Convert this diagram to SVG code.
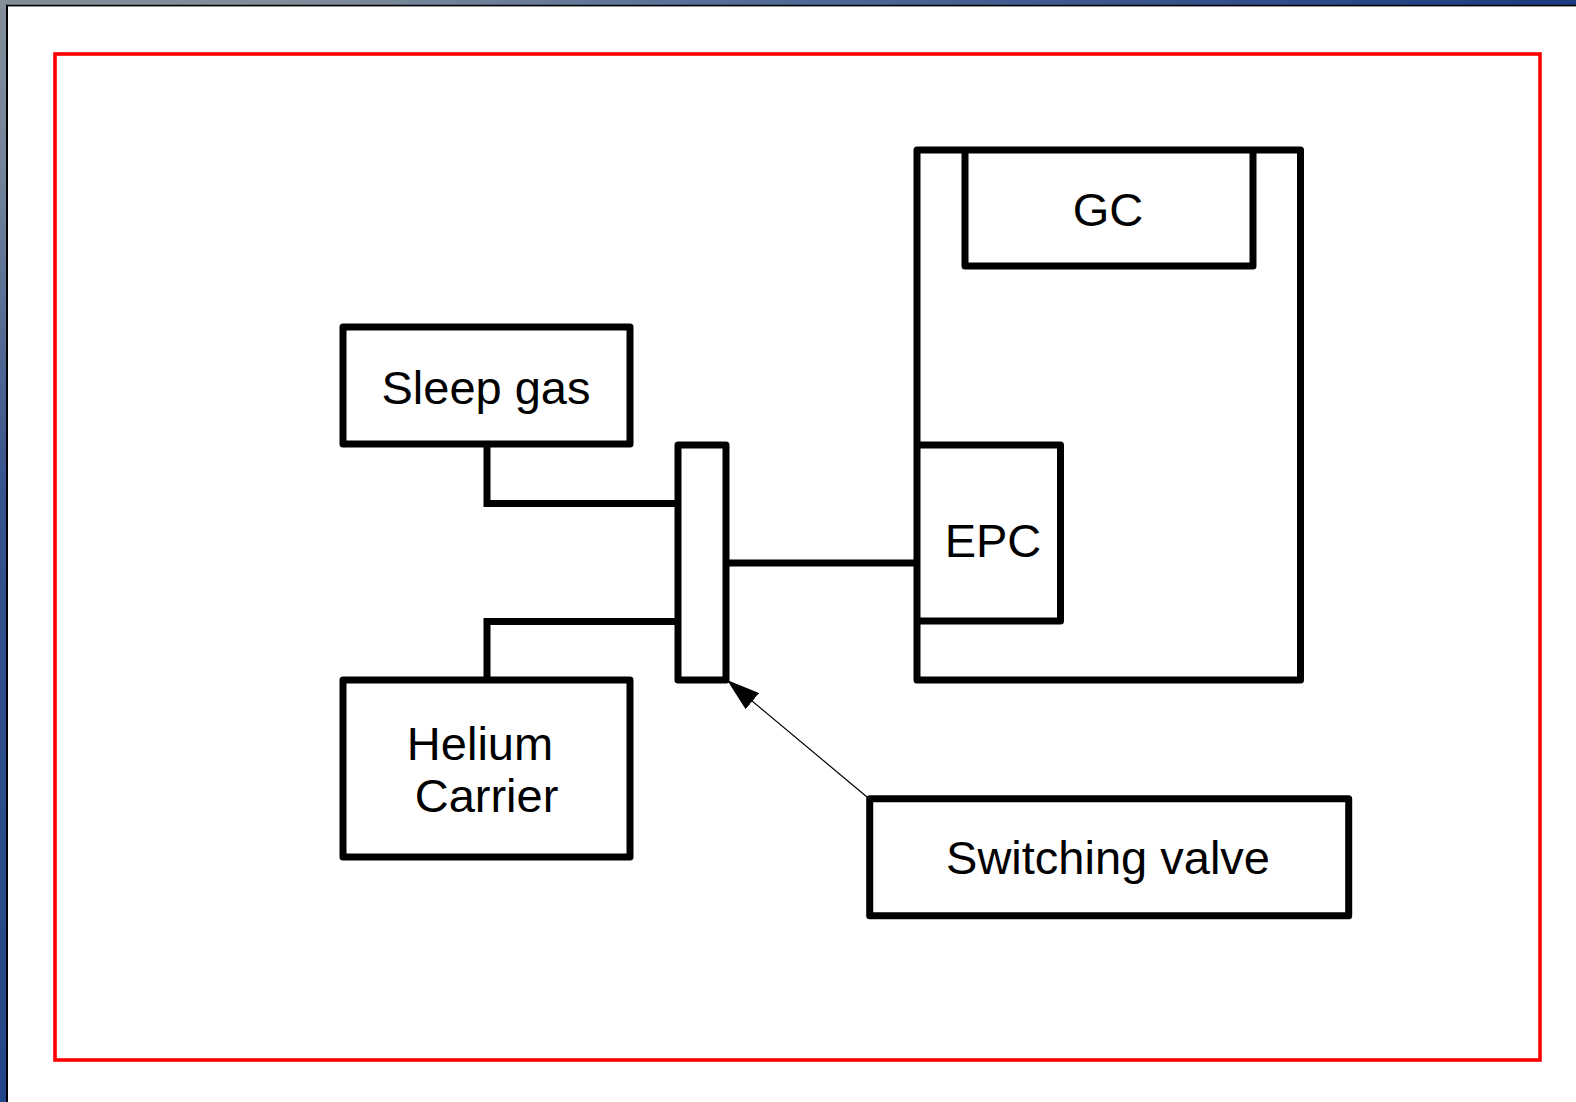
<svg xmlns="http://www.w3.org/2000/svg" width="1576" height="1102" viewBox="0 0 1576 1102">
<defs>
<linearGradient id="gTop" x1="0" y1="0" x2="1576" y2="0" gradientUnits="userSpaceOnUse">
<stop offset="0" stop-color="#838e99"/>
<stop offset="0.2" stop-color="#7f8b98"/>
<stop offset="0.45" stop-color="#566e98"/>
<stop offset="1" stop-color="#1b3a80"/>
</linearGradient>
<linearGradient id="gLeft" x1="0" y1="0" x2="0" y2="1102" gradientUnits="userSpaceOnUse">
<stop offset="0" stop-color="#838e99"/>
<stop offset="0.15" stop-color="#74849a"/>
<stop offset="0.45" stop-color="#35528d"/>
<stop offset="1" stop-color="#214788"/>
</linearGradient>
<marker id="arrow" viewBox="0 0 33 21" refX="33" refY="10.5" markerWidth="33" markerHeight="21" markerUnits="userSpaceOnUse" orient="auto">
<path d="M0,0 L33,10.5 L0,21 Z" fill="#000"/>
</marker>
<style>
.box{fill:#fff;stroke:#000;stroke-width:7;stroke-linejoin:round}
.open{fill:none;stroke:#000;stroke-width:7;stroke-linejoin:round}
.pipe{fill:none;stroke:#000;stroke-width:7;stroke-linejoin:miter}
.lbl{font-family:"Liberation Sans",Arial,sans-serif;font-size:47px;fill:#000;text-anchor:middle}
</style>
</defs>
<rect x="0" y="0" width="1576" height="1102" fill="#fff"/>
<rect x="0" y="0" width="1576" height="6" fill="url(#gTop)"/>
<rect x="0" y="0" width="7" height="1102" fill="url(#gLeft)"/>
<rect x="6" y="4.8" width="1570" height="1.6" fill="#000"/>
<rect x="6" y="4.8" width="2" height="1098" fill="#000"/>
<rect x="55" y="54" width="1485" height="1006" fill="none" stroke="#ff0000" stroke-width="3.6"/>

<g id="connectors">
<polyline class="pipe" points="487,444 487,503.5 678,503.5"/>
<polyline class="pipe" points="487,680 487,621.5 678,621.5"/>
<line class="pipe" x1="726" y1="563" x2="917" y2="563"/>
<line x1="867" y1="797" x2="727" y2="680" stroke="#000" stroke-width="1.2" marker-end="url(#arrow)"/>
</g>

<g id="gc-unit">
<path class="open" d="M917,150 H1300.5 V680 H917 Z"/>
</g>
<g id="gc">
<path class="open" d="M965,150 V266 H1253 V150"/>
<text class="lbl" x="1108" y="226">GC</text>
</g>
<g id="epc">
<path class="open" d="M917,445 H1060.5 V621 H917"/>
<text class="lbl" x="993" y="557">EPC</text>
</g>
<g id="sleep-gas">
<rect class="box" x="343" y="327" width="287" height="117"/>
<text class="lbl" x="486" y="404">Sleep gas</text>
</g>
<g id="helium-carrier">
<rect class="box" x="343" y="680" width="287" height="177"/>
<text class="lbl" x="480" y="760">Helium</text>
<text class="lbl" x="486.5" y="812">Carrier</text>
</g>
<g id="valve">
<rect class="box" x="678" y="445" width="48" height="235"/>
</g>
<g id="switching-valve">
<rect class="box" x="869.7" y="798.7" width="479" height="117"/>
<text class="lbl" x="1108" y="874">Switching valve</text>
</g>
</svg>
